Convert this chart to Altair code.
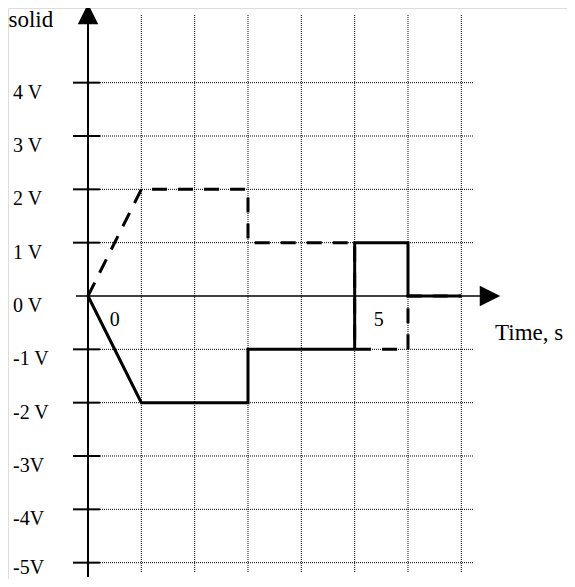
import altair as alt
import pandas as pd

# ---- data (time in grid units, voltage in V) ----
solid_t = [0, 1, 3, 3, 5, 5, 6, 6, 7]
solid_v = [0, -2, -2, -1, -1, 1, 1, 0, 0]
dashed_t = [0, 1, 3, 3, 5, 5, 6, 6, 7]
dashed_v = [0, 2, 2, 1, 1, -1, -1, 0, 0]
grid_t = [1, 2, 3, 4, 5, 6, 7]
volt_ticks = [4, 3, 2, 1, 0, -1, -2, -3, -4, -5]
volt_labels = ["4 V", "3 V", "2 V", "1 V", "0 V", "-1 V", "-2 V", "-3V", "-4V", "-5V"]
time_labels = ["0", "5"]
time_label_at = [0.5, 5.45]

# ---- layout (pixels of the page) ----
U = 53.333          # pixels per unit
X0, Y0 = 88, 296    # page position of origin
W, H = 559, 571
FONT = "Liberation Serif"
FS = 20
FS_T = 23


def dx(px):
    return (px - X0) / U


def dy(py):
    return (Y0 - py) / U


xs = alt.Scale(domain=[dx(8), dx(8 + W)], nice=False, zero=False)
ys = alt.Scale(domain=[dy(8 + H), dy(8)], nice=False, zero=False)


def X(f, **k):
    return alt.X(f, type="quantitative", scale=xs, axis=None, **k)


def Y(f, **k):
    return alt.Y(f, type="quantitative", scale=ys, axis=None, **k)


# grid
vgrid = pd.DataFrame({"x": grid_t, "y": dy(15), "y2": dy(573)})
hg = [v for v in volt_ticks if v != 0]
hgrid = pd.DataFrame({"y": hg, "x": dx(100), "x2": dx(473)})
ticks = pd.DataFrame({"y": hg, "x": dx(73), "x2": dx(100)})

vgrid_l = alt.Chart(vgrid).mark_rule(color="black", strokeWidth=1, strokeDash=[1, 1]).encode(
    x=X("x"), y=Y("y"), y2="y2")
hgrid_l = alt.Chart(hgrid).mark_rule(color="black", strokeWidth=1, strokeDash=[1, 1]).encode(
    y=Y("y"), x=X("x"), x2="x2")
ticks_l = alt.Chart(ticks).mark_rule(color="black", strokeWidth=2).encode(
    y=Y("y"), x=X("x"), x2="x2")

# axes
yaxis = alt.Chart(pd.DataFrame({"x": [0], "y": [dy(577)], "y2": [dy(23)]})).mark_rule(
    color="black", strokeWidth=2).encode(x=X("x"), y=Y("y"), y2="y2")
xaxis = alt.Chart(pd.DataFrame({"y": [0], "x": [dx(76)], "x2": [dx(481)]})).mark_rule(
    color="black", strokeWidth=1.5).encode(y=Y("y"), x=X("x"), x2="x2")

up = alt.Chart(pd.DataFrame({"x": [0], "y": [dy(14)]})).mark_point(
    shape="M-1,1L1,1L0,-1Z", size=420, filled=True, color="black", opacity=1, strokeWidth=0
).encode(x=X("x"), y=Y("y"))
right = alt.Chart(pd.DataFrame({"x": [dx(490)], "y": [0]})).mark_point(
    shape="M-1,-1L1,0L-1,1Z", size=420, filled=True, color="black", opacity=1, strokeWidth=0
).encode(x=X("x"), y=Y("y"))

# series
dashed = pd.DataFrame({"t": dashed_t, "v": dashed_v, "o": range(len(dashed_t))})
solid = pd.DataFrame({"t": solid_t, "v": solid_v, "o": range(len(solid_t))})
dashed_l = alt.Chart(dashed).mark_line(color="black", strokeWidth=3, strokeDash=[15, 11],
                                        strokeJoin="miter", strokeCap="butt").encode(
    x=X("t"), y=Y("v"), order="o:Q")
solid_l = alt.Chart(solid).mark_line(color="black", strokeWidth=3, strokeJoin="miter").encode(
    x=X("t"), y=Y("v"), order="o:Q")

# texts
ylab = pd.DataFrame({"y": [max(v - 16 / U, dy(574)) for v in volt_ticks], "x": dx(13),
                     "t": volt_labels})
ylab_l = alt.Chart(ylab).mark_text(font=FONT, fontSize=FS, align="left", baseline="alphabetic",
                                   color="black").encode(x=X("x"), y=Y("y"), text="t:N")
tlab = pd.DataFrame({"x": time_label_at, "y": dy(326), "t": time_labels})
tlab_l = alt.Chart(tlab).mark_text(font=FONT, fontSize=FS, align="center", baseline="alphabetic",
                                   color="black").encode(x=X("x"), y=Y("y"), text="t:N")
ttl1 = alt.Chart(pd.DataFrame({"x": [dx(8.5)], "y": [dy(27)], "t": ["solid"]})).mark_text(
    font=FONT, fontSize=FS_T, align="left", baseline="alphabetic", color="black").encode(
    x=X("x"), y=Y("y"), text="t:N")
ttl2 = alt.Chart(pd.DataFrame({"x": [dx(495)], "y": [dy(340)], "t": ["Time, s"]})).mark_text(
    font=FONT, fontSize=FS_T, align="left", baseline="alphabetic", color="black").encode(
    x=X("x"), y=Y("y"), text="t:N")

chart = alt.layer(
    vgrid_l, hgrid_l, ticks_l, yaxis, xaxis, up, right, dashed_l, solid_l,
    ylab_l, tlab_l, ttl1, ttl2
).properties(
    width=W, height=H, padding=0, autosize=alt.AutoSizeParams(type="none")
).configure_view(stroke=None).configure(background="white")

chart.save("out.html", embed_options={"renderer": "svg", "actions": False})
